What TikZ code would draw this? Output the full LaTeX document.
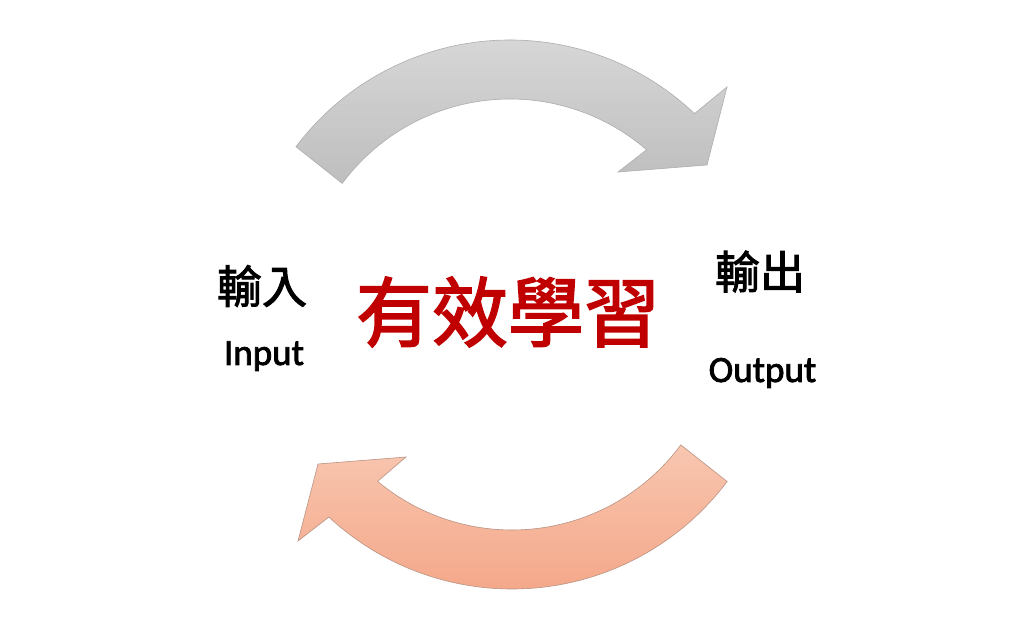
\documentclass[tikz,border=0pt]{standalone}
\usepackage{fontspec}
\setmainfont{Noto Sans CJK TC}
\newfontfamily\cjkmid{Noto Sans CJK TC}[FakeBold=2.2]
\newfontfamily\latinfont{Carlito}[FakeBold=2.2]
\definecolor{gtop}{RGB}{216,216,216}
\definecolor{gbot}{RGB}{190,190,190}
\definecolor{otop}{RGB}{248,198,176}
\definecolor{obot}{RGB}{244,166,136}
\definecolor{titlered}{RGB}{192,0,0}
\begin{document}
\begin{tikzpicture}[x=1pt,y=1pt]
\tikzset{
  grayarrow/.style={draw=black!32, line width=0.6pt, top color=gtop, bottom color=gbot},
  orangearrow/.style={draw=black!25!otop, line width=0.6pt, top color=otop, bottom color=obot},
  cjklabel/.style={inner sep=0pt, font=\cjkmid\fontsize{45}{50}\selectfont},
  latlabel/.style={inner sep=0pt, anchor=base, font=\latinfont\fontsize{37}{40}\selectfont},
  titlelabel/.style={inner sep=0pt, text=titlered, font=\cjkmid\fontsize{76}{80}\selectfont}
}
\useasboundingbox (0,0) rectangle (1024,629);
\fill[white] (0,0) rectangle (1024,629);
\coordinate (ct) at (510,321);
\coordinate (cb) at (512,309);
% top arrow (input -> output)
\path[grayarrow] ([shift={(143:268pt)}]ct) arc[start angle=143,end angle=46.5,radius=268pt]
  -- (727,542) -- (707,464) -- (618,457)
  -- ([shift={(49.2:209pt)}]ct) arc[start angle=49.2,end angle=143.4,radius=209pt] -- cycle;
% bottom arrow (output -> input)
\path[orangearrow] ([shift={(-36.9:269pt)}]cb) arc[start angle=-36.9,end angle=-132.9,radius=269pt]
  -- (298,88) -- (318,165) -- (406,172)
  -- ([shift={(-129.8:210pt)}]cb) arc[start angle=-129.8,end angle=-36.5,radius=210pt] -- cycle;
\node[cjklabel] (in) at (262,343) {輸入};
\node[latlabel] (inen) at (264,264) {Input};
\node[cjklabel] (out) at (760,357.5) {輸出};
\node[latlabel] (outen) at (762.5,247) {Output};
\node[titlelabel] (main) at (508,317) {有效學習};
\end{tikzpicture}
\end{document}
